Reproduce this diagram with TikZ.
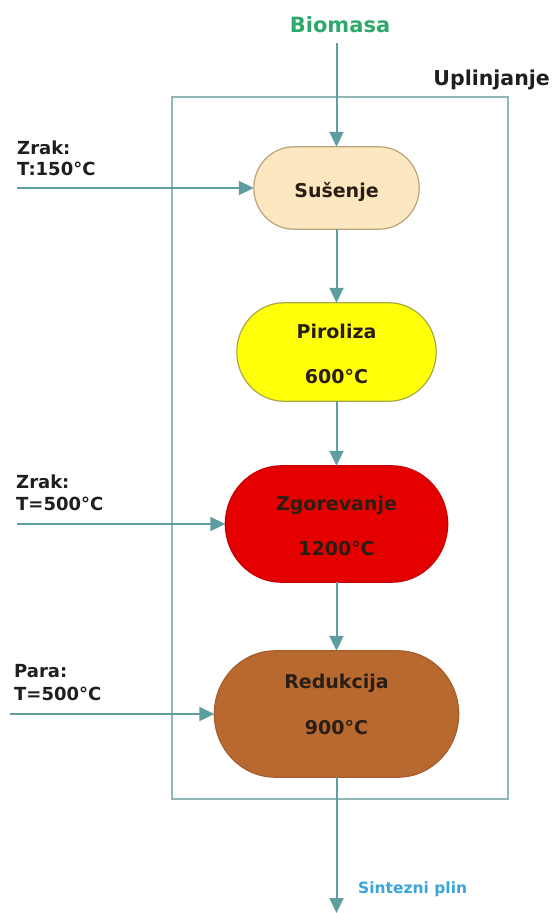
\documentclass[tikz,border=0pt]{standalone}
\usepackage{fontspec}
\setmainfont{DejaVu Sans}
\usetikzlibrary{arrows.meta}
\definecolor{flow}{HTML}{5F9EA0}
\definecolor{framec}{HTML}{8DB8B5}
\definecolor{susfill}{HTML}{FBE7C0}
\definecolor{susdraw}{HTML}{B9A27C}
\definecolor{pirfill}{HTML}{FFFF0A}
\definecolor{pirdraw}{HTML}{A8A848}
\definecolor{zgofill}{HTML}{E50000}
\definecolor{zgodraw}{HTML}{C40000}
\definecolor{redfill}{HTML}{B8692F}
\definecolor{reddraw}{HTML}{A65E2C}
\definecolor{ntc}{HTML}{2A1E14}
\definecolor{labelc}{HTML}{1E1E1E}
\definecolor{biog}{HTML}{2FA86B}
\definecolor{synb}{HTML}{3AA5D8}
% capsule outline (rounded ends) around a named node:
% #1 node, #2 x radius of the ends, #3 half height, #4 options
\newcommand{\capsulepath}[4]{%
  \path[#4] ([xshift=#2]#1.north west) -- ([xshift=-#2]#1.north east)
   .. controls ([xshift=-0.4477*#2]#1.north east) and ([yshift=0.5523*#3]#1.east) .. (#1.east)
   .. controls ([yshift=-0.5523*#3]#1.east) and ([xshift=-0.4477*#2]#1.south east) .. ([xshift=-#2]#1.south east)
   -- ([xshift=#2]#1.south west)
   .. controls ([xshift=0.4477*#2]#1.south west) and ([yshift=-0.5523*#3]#1.west) .. (#1.west)
   .. controls ([yshift=0.5523*#3]#1.west) and ([xshift=0.4477*#2]#1.north west) .. ([xshift=#2]#1.north west)
   -- cycle;}
\begin{document}
\begin{tikzpicture}[x=1pt,y=-1pt,
  proc/.style={rectangle, inner sep=0pt},
  capline/.style={line width=1.2pt},
  lbl/.style={anchor=base west, inner sep=0pt, font=\bfseries\fontsize{18pt}{22pt}\selectfont, text=labelc},
  ntext/.style={anchor=base, inner sep=0pt, font=\bfseries\fontsize{19pt}{22pt}\selectfont, text=ntc},
  flowline/.style={draw=flow, line width=2pt, -{Triangle[length=15pt,width=14pt]}}]
\fill[white] (0,0) rectangle (552,913);
\useasboundingbox (0,0) rectangle (552,913);

% frame
\node[draw=framec, line width=2pt, rectangle, inner sep=0pt,
      minimum width=336pt, minimum height=702pt] (box) at (340,448) {};

% process nodes (outline drawn as capsules)
\node[proc, minimum width=165pt, minimum height=82pt] (sus) at (336.5,188) {};
\node[proc, minimum width=199pt, minimum height=98pt] (pir) at (336.5,352) {};
\node[proc, minimum width=222pt, minimum height=116pt] (zgo) at (336.5,524) {};
\node[proc, minimum width=244pt, minimum height=126pt] (red) at (336.5,714) {};
\capsulepath{sus}{40pt}{41pt}{capline, fill=susfill, draw=susdraw}
\capsulepath{pir}{47pt}{49pt}{capline, fill=pirfill, draw=pirdraw}
\capsulepath{zgo}{56pt}{58pt}{capline, fill=zgofill, draw=zgodraw}
\capsulepath{red}{61pt}{63pt}{capline, fill=redfill, draw=reddraw}

\node[ntext] (sus-t) at (336.5,197) {Sušenje};
\node[ntext] (pir-t1) at (336.5,338) {Piroliza};
\node[ntext] (pir-t2) at (336.5,383) {600°C};
\node[ntext] (zgo-t1) at (336.5,510) {Zgorevanje};
\node[ntext] (zgo-t2) at (336.5,555) {1200°C};
\node[ntext] (red-t1) at (336.5,688) {Redukcija};
\node[ntext] (red-t2) at (336.5,734) {900°C};

% labels
\node[anchor=base, inner sep=0pt, font=\bfseries\fontsize{21pt}{24pt}\selectfont, text=biog] (bio) at (340,32) {Biomasa};
\node[anchor=base east, inner sep=0pt, font=\bfseries\fontsize{20.5pt}{24pt}\selectfont, text=labelc] (upl) at (550,85) {Uplinjanje};
\node[anchor=base west, inner sep=0pt, font=\bfseries\fontsize{15.5pt}{18pt}\selectfont, text=synb] (syn) at (358,893) {Sintezni plin};

\node[lbl] (z1a) at (17,154) {Zrak:};
\node[lbl] (z1b) at (17,175) {T:150°C};
\node[lbl] (z2a) at (16,488) {Zrak:};
\node[lbl] (z2b) at (16,510) {T=500°C};
\node[lbl] (pa) at (14,677) {Para:};
\node[lbl] (pb) at (14,700) {T=500°C};

% connector ends
\coordinate (bioin) at (336.5,43);
\coordinate (out) at (336.5,913);
\coordinate (in1) at (17,188);
\coordinate (in2) at (17,524);
\coordinate (in3) at (10,714);

% connectors
\draw[flowline] (bioin) -- (sus.north);
\draw[flowline] (sus.south) -- (pir.north);
\draw[flowline] (pir.south) -- (zgo.north);
\draw[flowline] (zgo.south) -- (red.north);
\draw[flowline] (red.south) -- (out);
\draw[flowline] (in1) -- (sus.west);
\draw[flowline] (in2) -- (zgo.west);
\draw[flowline] (in3) -- (red.west);
\end{tikzpicture}
\end{document}
